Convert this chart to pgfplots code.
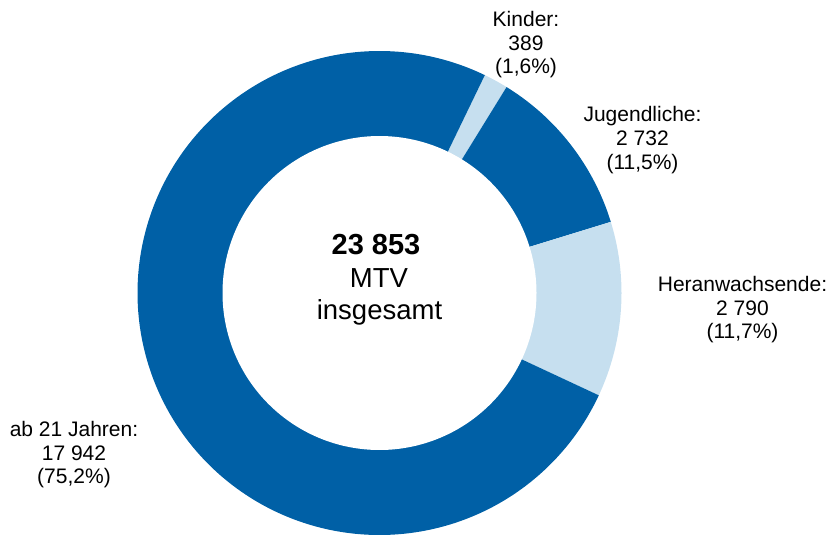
\documentclass[border=0pt]{standalone}
\usepackage{fontspec}
\setmainfont{Liberation Sans}
\usepackage{pgfplots}
\pgfplotsset{compat=1.18}

\definecolor{dunkelblau}{RGB}{0,96,166}
\definecolor{hellblau}{RGB}{198,223,239}

% Werte (MTV nach Altersgruppe)
\def\vKinder{389}
\def\vJugend{2732}
\def\vHeran{2790}
\def\vAb{17942}
\edef\vSumme{\fpeval{\vKinder+\vJugend+\vHeran+\vAb}}

% Geometrie in Pixeln des Bildes
\def\cx{379.5}
\def\cy{293}
\def\Ra{242}
\def\Ri{157}
\def\aA{64.2}
\edef\aB{\fpeval{round(\aA-\vKinder/\vSumme*360,4)}}
\edef\aC{\fpeval{round(\aB-\vJugend/\vSumme*360,4)}}
\edef\aD{\fpeval{round(\aC-\vHeran/\vSumme*360,4)}}
\edef\aE{\fpeval{round(\aD-\vAb/\vSumme*360,4)}}

\newcommand{\lab}[3]{\node[anchor=base, inner sep=0pt, font=\fontsize{21}{23.5}\selectfont] at (axis cs:#1,#2) {#3};}

\begin{document}
\begin{tikzpicture}
\begin{axis}[
  width=829pt, height=536pt, scale only axis,
  xmin=0, xmax=829, ymin=0, ymax=536, y dir=reverse,
  hide axis, clip=false,
]
% Sektoren
\addplot[fill=hellblau, draw=none, domain=\aB:\aA, samples=20]
  ({\cx+\Ra*cos(x)},{\cy-\Ra*sin(x)}) -- (axis cs:\cx,\cy) -- cycle;
\addplot[fill=dunkelblau, draw=none, domain=\aC:\aB, samples=60]
  ({\cx+\Ra*cos(x)},{\cy-\Ra*sin(x)}) -- (axis cs:\cx,\cy) -- cycle;
\addplot[fill=hellblau, draw=none, domain=\aD:\aC, samples=60]
  ({\cx+\Ra*cos(x)},{\cy-\Ra*sin(x)}) -- (axis cs:\cx,\cy) -- cycle;
\addplot[fill=dunkelblau, draw=none, domain=\aE:\aD, samples=300]
  ({\cx+\Ra*cos(x)},{\cy-\Ra*sin(x)}) -- (axis cs:\cx,\cy) -- cycle;
% Loch
\addplot[fill=white, draw=none, domain=0:360, samples=300]
  ({\cx+\Ri*cos(x)},{\cy-\Ri*sin(x)}) -- cycle;

% Beschriftungen
\lab{526}{26.7}{Kinder:}
\lab{526}{50.3}{389}
\lab{526}{73.5}{(1,6\%)}
\lab{642.5}{121.7}{Jugendliche:}
\lab{642.5}{145.5}{2 732}
\lab{642.5}{169.3}{(11,5\%)}
\lab{742.5}{291.7}{Heranwachsende:}
\lab{742.5}{315.2}{2 790}
\lab{742.5}{338}{(11,7\%)}
\lab{74}{436.7}{ab 21 Jahren:}
\lab{74}{460.2}{17 942}
\lab{74}{483.2}{(75,2\%)}
\node[anchor=base, inner sep=0pt, font=\fontsize{29}{33}\selectfont\bfseries] at (axis cs:376,254) {23 853};
\node[anchor=base, inner sep=0pt, font=\fontsize{27.5}{33}\selectfont] at (axis cs:379,287.3) {MTV};
\node[anchor=base, inner sep=0pt, font=\fontsize{27.5}{33}\selectfont] at (axis cs:379.5,319.3) {insgesamt};
\end{axis}
\pgfresetboundingbox
\path[use as bounding box] (0,0) rectangle (829pt,536pt);
\end{tikzpicture}
\end{document}
